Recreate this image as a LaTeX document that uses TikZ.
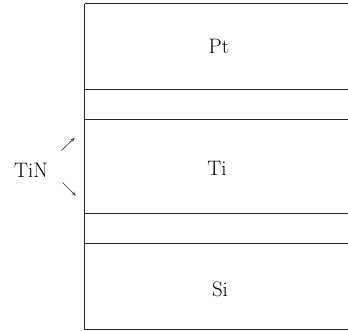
\documentclass[tikz,border=0pt]{standalone}
\usetikzlibrary{arrows.meta}
\begin{document}
\begin{tikzpicture}[x=1bp,y=-1bp,
  layerline/.style={draw=black!85,line width=0.8bp},
  label/.style={font=\fontsize{21}{25}\selectfont,anchor=base,inner sep=0pt},
  pointer/.style={draw=black!85,line width=0.55bp,-{To[length=4bp,width=3.5bp]}}]
  % page frame
  \useasboundingbox (0,0) rectangle (348,331);
  % stack boundaries (left edge, then interfaces from top to bottom)
  \coordinate (tl) at (84.5,3.5);
  \coordinate (bl) at (84.5,329.5);
  \draw[layerline] (tl) -- (bl);
  \foreach \y in {3.5,89.5,119.5,213.5,243,329.5}
    \draw[layerline] (84.5,\y) -- (348,\y);
  % layer names
  \node[label] (pt) at (219,53) {Pt};
  \node[label] (ti) at (217,175) {Ti};
  \node[label] (si) at (220,296) {Si};
  \node[label] (tin) at (31,177) {TiN};
  % pointers to the two TiN layers
  \coordinate (upS) at (61.5,150.5);
  \coordinate (upE) at (74.5,138);
  \coordinate (dnS) at (62.5,182.5);
  \coordinate (dnE) at (75.5,195.5);
  \draw[pointer] (upS) -- (upE);
  \draw[pointer] (dnS) -- (dnE);
\end{tikzpicture}
\end{document}
